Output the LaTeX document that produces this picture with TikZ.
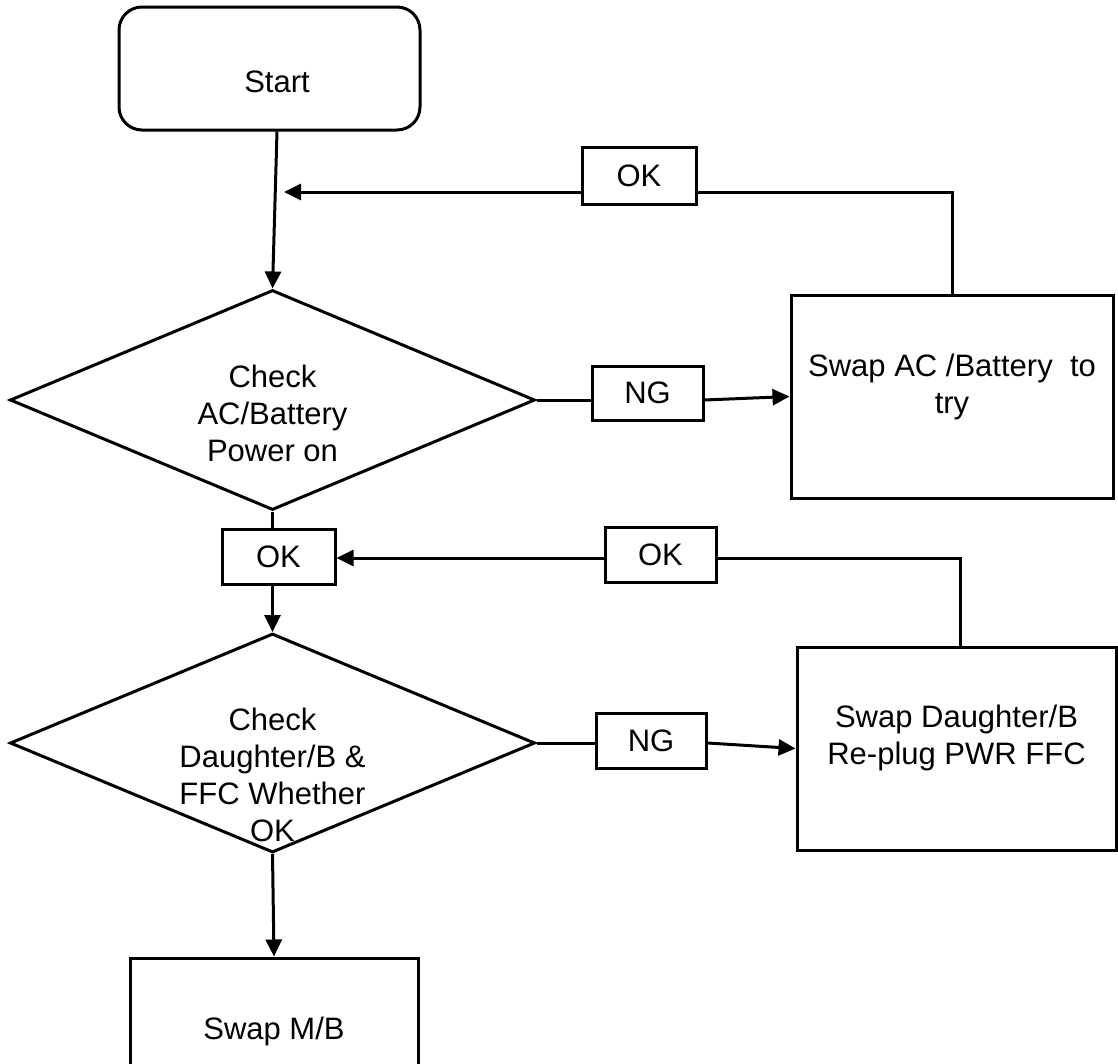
\documentclass[tikz,border=0pt]{standalone}
\usepackage{fontspec}
\setmainfont{Liberation Sans}
\usetikzlibrary{arrows.meta,shapes.geometric,calc}
\begin{document}
\begin{tikzpicture}[x=1pt,y=-1pt,
  every node/.style={font=\fontsize{31}{37}\selectfont},
  ln/.style={line width=3pt},
  arr/.style={ln,-{Triangle[length=17pt,width=16pt]}},
  boxs/.style={draw,ln,rectangle,inner sep=0pt,align=center},
  dia/.style={draw,ln,diamond,inner sep=0pt}]
\useasboundingbox (0,0) rectangle (1118,1063);
\fill[white] (0,0) rectangle (1118,1063);
\clip (0,0) rectangle (1118,1063);
% shapes
\node[boxs, rounded corners=23pt, minimum width=301pt, minimum height=123pt,
  label={[xshift=7.5pt,yshift=-13.5pt]center:Start}] (start) at (269.5,68.5) {};
\node[dia, minimum width=525pt, minimum height=220pt,
  label={[align=center,yshift=-13pt]center:{Check\\AC/Battery\\ Power on}}] (d1) at (272.5,400) {};
\node[boxs, minimum width=322pt, minimum height=203pt,
  label={[align=center,yshift=10pt]center:{Swap AC /Battery~ to\\try}}] (swapac) at (952,396.5) {};
\node[boxs, minimum width=114pt, minimum height=57pt] (okA) at (639,175.5) {OK};
\node[boxs, minimum width=111pt, minimum height=54pt] (ng1) at (647.5,393) {NG};
\node[boxs, minimum width=113pt, minimum height=55pt] (okB) at (278.5,556.5) {OK};
\node[boxs, minimum width=111pt, minimum height=55pt] (okC) at (660.5,554.5) {OK};
\node[dia, minimum width=525pt, minimum height=219pt,
  label={[align=center,yshift=-32pt]center:{Check\\Daughter/B \&\\FFC Whether\\OK}}] (d2) at (272.5,743) {};
\node[boxs, minimum width=110pt, minimum height=55pt] (ng2) at (651,740.5) {NG};
\node[boxs, minimum width=319pt, minimum height=203pt,
  label={[align=center,yshift=10.5pt]center:{Swap Daughter/B\\Re-plug PWR FFC}}] (swapd) at (956.5,748.5) {};
\node[boxs, minimum width=288pt, minimum height=146pt] (swapmb) at (274,1031) {Swap M/B};
% connectors
\coordinate (j1) at (952,192);
\coordinate (t1) at (284,192);
\coordinate (j2) at (960,558);
\draw[arr] ([xshift=7.5pt]start.south) -- (d1.north);
\draw[ln] (swapac.north) -- (j1) -- (j1 -| okA.east);
\draw[arr] (j1 -| okA.west) -- (t1);
\draw[ln] (d1.east) -- (d1.east -| ng1.west);
\draw[arr] (ng1.east |- d1.east) -- (swapac.west);
\draw[ln] (d1.south) -- (d1.south |- okB.north);
\draw[arr] (okB.south -| d1.south) -- (d2.north);
\draw[ln] (swapd.north -| j2) -- (j2) -- (j2 -| okC.east);
\draw[arr] (j2 -| okC.west) -- (j2 -| okB.east);
\draw[ln] (d2.east) -- (d2.east -| ng2.west);
\draw[arr] (ng2.east |- d2.east) -- (swapd.west);
\draw[arr] (d2.south) -- (swapmb.north);
\end{tikzpicture}
\end{document}
